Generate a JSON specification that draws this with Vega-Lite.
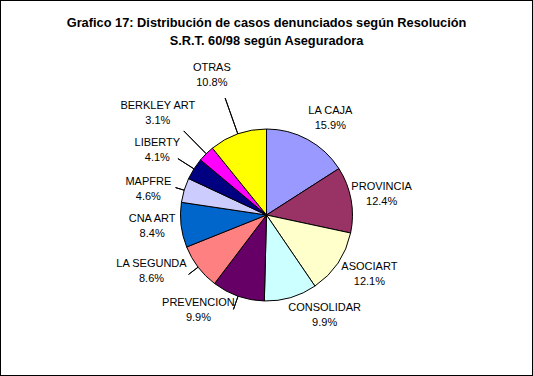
{
  "$schema": "https://vega.github.io/schema/vega-lite/v6.json",
  "width": 533,
  "height": 376,
  "padding": 0,
  "autosize": {"type": "fit", "contains": "padding"},
  "background": "white",
  "view": {"stroke": "black", "strokeWidth": 2},
  "config": {
    "view": {"stroke": "black", "strokeWidth": 2},
    "style": {"view": {"stroke": "black", "strokeWidth": 2}},
    "font": "Liberation Sans",
    "text": {"fontSize": 11, "lineHeight": 15, "color": "black", "align": "center", "baseline": "middle"}
  },
  "title": {
    "text": ["Grafico 17: Distribución de casos denunciados según Resolución", "S.R.T. 60/98 según Aseguradora"],
    "font": "Liberation Sans",
    "fontSize": 12.8,
    "fontWeight": "bold",
    "color": "black",
    "lineHeight": 18.5,
    "anchor": "middle",
    "baseline": "bottom",
    "offset": -61
  },
  "data": {
    "values": [
      {"rank": 1, "name": "LA CAJA", "pct": 15.9},
      {"rank": 2, "name": "PROVINCIA", "pct": 12.4},
      {"rank": 3, "name": "ASOCIART", "pct": 12.1},
      {"rank": 4, "name": "CONSOLIDAR", "pct": 9.9},
      {"rank": 5, "name": "PREVENCION", "pct": 9.9},
      {"rank": 6, "name": "LA SEGUNDA", "pct": 8.6},
      {"rank": 7, "name": "CNA ART", "pct": 8.4},
      {"rank": 8, "name": "MAPFRE", "pct": 4.6},
      {"rank": 9, "name": "LIBERTY", "pct": 4.1},
      {"rank": 10, "name": "BERKLEY ART", "pct": 3.1},
      {"rank": 11, "name": "OTRAS", "pct": 10.8}
    ]
  },
  "transform": [
    {"stack": "pct", "groupby": [], "sort": [{"field": "rank", "order": "ascending"}], "as": ["t0", "t1"]},
    {"calculate": "(datum.t0 + datum.t1) / 2", "as": "mid"},
    {"calculate": "[datum.name, format(datum.pct, '.1f') + '%']", "as": "label"}
  ],
  "layer": [
    {
      "mark": {"type": "arc", "outerRadius": 86, "stroke": "black", "strokeWidth": 1, "yOffset": 27},
      "encoding": {
        "theta": {"field": "t0", "type": "quantitative", "scale": {"domain": [0, 99.8]}},
        "theta2": {"field": "t1"},
        "color": {
          "field": "name",
          "type": "nominal",
          "legend": null,
          "scale": {
            "domain": ["LA CAJA", "PROVINCIA", "ASOCIART", "CONSOLIDAR", "PREVENCION", "LA SEGUNDA", "CNA ART", "MAPFRE", "LIBERTY", "BERKLEY ART", "OTRAS"],
            "range": ["#9999FF", "#993366", "#FFFFCC", "#CCFFFF", "#660066", "#FF8080", "#0066CC", "#CCCCFF", "#000080", "#FF00FF", "#FFFF00"]
          }
        }
      }
    },
    {
      "transform": [{"filter": "datum.name == 'LA CAJA'"}],
      "mark": {"type": "text", "radius": 116, "thetaOffset": 0.082, "yOffset": 19.5},
      "encoding": {"theta": {"field": "mid", "type": "quantitative"}, "text": {"field": "label"}}
    },
    {
      "transform": [{"filter": "datum.name == 'PROVINCIA'"}],
      "mark": {"type": "text", "radius": 117, "thetaOffset": 0, "yOffset": 19.5},
      "encoding": {"theta": {"field": "mid", "type": "quantitative"}, "text": {"field": "label"}}
    },
    {
      "transform": [{"filter": "datum.name == 'ASOCIART'"}],
      "mark": {"type": "text", "radius": 119, "thetaOffset": -0.065, "yOffset": 19.5},
      "encoding": {"theta": {"field": "mid", "type": "quantitative"}, "text": {"field": "label"}}
    },
    {
      "transform": [{"filter": "datum.name == 'CONSOLIDAR'"}],
      "mark": {"type": "text", "radius": 116.5, "thetaOffset": -0.236, "yOffset": 19.5},
      "encoding": {"theta": {"field": "mid", "type": "quantitative"}, "text": {"field": "label"}}
    },
    {
      "transform": [{"filter": "datum.name == 'PREVENCION'"}],
      "layer": [
        {
          "mark": {"type": "text", "radius": 117, "thetaOffset": 0.284, "yOffset": 19.5},
          "encoding": {"theta": {"field": "mid", "type": "quantitative"}, "text": {"field": "label"}}
        },
        {
          "mark": {"type": "arc", "radius": 100, "radius2": 86, "stroke": "black", "strokeWidth": 1, "fill": null, "yOffset": 27},
          "encoding": {"theta": {"field": "mid", "type": "quantitative"}, "theta2": {"field": "mid"}}
        }
      ]
    },
    {
      "transform": [{"filter": "datum.name == 'LA SEGUNDA'"}],
      "layer": [
        {
          "mark": {"type": "text", "radius": 128, "thetaOffset": 0.197, "yOffset": 19.5},
          "encoding": {"theta": {"field": "mid", "type": "quantitative"}, "text": {"field": "label"}}
        },
        {
          "mark": {"type": "arc", "radius": 98, "radius2": 86, "stroke": "black", "strokeWidth": 1, "fill": null, "yOffset": 27},
          "encoding": {"theta": {"field": "mid", "type": "quantitative"}, "theta2": {"field": "mid"}}
        }
      ]
    },
    {
      "transform": [{"filter": "datum.name == 'CNA ART'"}],
      "mark": {"type": "text", "radius": 115, "thetaOffset": 0.012, "yOffset": 19.5},
      "encoding": {"theta": {"field": "mid", "type": "quantitative"}, "text": {"field": "label"}}
    },
    {
      "transform": [{"filter": "datum.name == 'MAPFRE'"}],
      "layer": [
        {
          "mark": {"type": "text", "radius": 121, "thetaOffset": -0.077, "yOffset": 19.5},
          "encoding": {"theta": {"field": "mid", "type": "quantitative"}, "text": {"field": "label"}}
        },
        {
          "mark": {"type": "arc", "radius": 95, "radius2": 86, "stroke": "black", "strokeWidth": 1, "fill": null, "yOffset": 27},
          "encoding": {"theta": {"field": "mid", "type": "quantitative"}, "theta2": {"field": "mid"}}
        }
      ]
    },
    {
      "transform": [{"filter": "datum.name == 'LIBERTY'"}],
      "layer": [
        {
          "mark": {"type": "text", "radius": 127, "thetaOffset": -0.03, "yOffset": 19.5},
          "encoding": {"theta": {"field": "mid", "type": "quantitative"}, "text": {"field": "label"}}
        },
        {
          "mark": {"type": "arc", "radius": 105, "radius2": 86, "stroke": "black", "strokeWidth": 1, "fill": null, "yOffset": 27},
          "encoding": {"theta": {"field": "mid", "type": "quantitative"}, "theta2": {"field": "mid"}}
        }
      ]
    },
    {
      "transform": [{"filter": "datum.name == 'BERKLEY ART'"}],
      "layer": [
        {
          "mark": {"type": "text", "radius": 149, "thetaOffset": -0.04, "yOffset": 19.5},
          "encoding": {"theta": {"field": "mid", "type": "quantitative"}, "text": {"field": "label"}}
        },
        {
          "mark": {"type": "arc", "radius": 118, "radius2": 86, "stroke": "black", "strokeWidth": 1, "fill": null, "yOffset": 27},
          "encoding": {"theta": {"field": "mid", "type": "quantitative"}, "theta2": {"field": "mid"}}
        }
      ]
    },
    {
      "transform": [{"filter": "datum.name == 'OTRAS'"}],
      "layer": [
        {
          "mark": {"type": "text", "radius": 150, "thetaOffset": -0.033, "yOffset": 19.5},
          "encoding": {"theta": {"field": "mid", "type": "quantitative"}, "text": {"field": "label"}}
        },
        {
          "mark": {"type": "arc", "radius": 124, "radius2": 86, "stroke": "black", "strokeWidth": 1, "fill": null, "yOffset": 27},
          "encoding": {"theta": {"field": "mid", "type": "quantitative"}, "theta2": {"field": "mid"}}
        }
      ]
    }
  ]
}
